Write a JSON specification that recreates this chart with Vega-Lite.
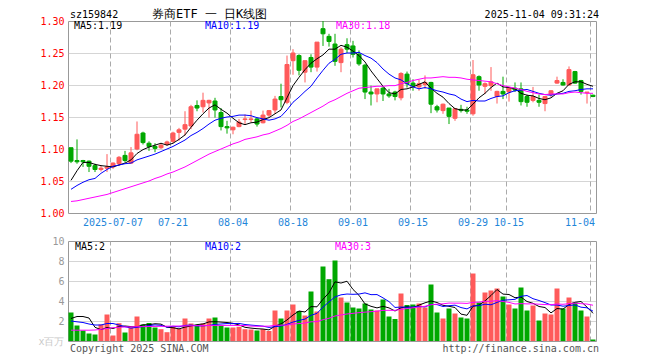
{
"$schema": "https://vega.github.io/schema/vega-lite/v6.json",
"padding": {"left": 37, "top": 7, "right": 0, "bottom": 0},
"background": "white",
"config": {
 "font": "DejaVu Sans Mono",
 "view": {"stroke": "#999", "strokeWidth": 1},
 "axis": {"domain": false, "ticks": false, "tickSize": 0, "labelFont": "DejaVu Sans Mono", "labelFontSize": 10, "title": null, "grid": false, "labelAngle": 0, "labelOverlap": false, "labelBound": false}
},
"datasets": {"k": [
{"d":"2025-06-26","o":1.102,"h":1.102,"l":1.078,"c":1.081,"v":2.85,"MA5":1.051,"MA10":1.037,"MA30":1.018,"VMA5":2.25,"VMA10":2.0,"VMA30":1.08},
{"d":"2025-06-27","o":1.082,"h":1.115,"l":1.077,"c":1.080,"v":1.55,"MA5":1.066,"MA10":1.043,"MA30":1.019,"VMA5":2.45,"VMA10":1.92,"VMA30":1.08},
{"d":"2025-06-30","o":1.082,"h":1.083,"l":1.072,"c":1.080,"v":1.05,"MA5":1.079,"MA10":1.048,"MA30":1.021,"VMA5":2.45,"VMA10":1.85,"VMA30":1.08},
{"d":"2025-07-01","o":1.081,"h":1.082,"l":1.064,"c":1.073,"v":0.75,"MA5":1.079,"MA10":1.052,"MA30":1.023,"VMA5":2.3,"VMA10":1.7,"VMA30":1.08},
{"d":"2025-07-02","o":1.074,"h":1.077,"l":1.064,"c":1.068,"v":0.65,"MA5":1.076,"MA10":1.054,"MA30":1.025,"VMA5":1.37,"VMA10":1.6,"VMA30":1.1},
{"d":"2025-07-03","o":1.068,"h":1.074,"l":1.065,"c":1.070,"v":1.65,"MA5":1.074,"MA10":1.062,"MA30":1.027,"VMA5":1.13,"VMA10":1.6,"VMA30":1.17},
{"d":"2025-07-04","o":1.070,"h":1.092,"l":1.064,"c":1.072,"v":2.65,"MA5":1.073,"MA10":1.068,"MA30":1.029,"VMA5":1.35,"VMA10":1.75,"VMA30":1.25},
{"d":"2025-07-07","o":1.072,"h":1.079,"l":1.069,"c":1.078,"v":0.55,"MA5":1.072,"MA10":1.073,"MA30":1.032,"VMA5":1.25,"VMA10":1.75,"VMA30":1.33},
{"d":"2025-07-08","o":1.077,"h":1.089,"l":1.074,"c":1.087,"v":1.78,"MA5":1.075,"MA10":1.075,"MA30":1.035,"VMA5":1.456,"VMA10":1.6,"VMA30":1.38},
{"d":"2025-07-09","o":1.090,"h":1.097,"l":1.079,"c":1.082,"v":0.85,"MA5":1.078,"MA10":1.077,"MA30":1.038,"VMA5":1.496,"VMA10":1.433,"VMA30":1.4},
{"d":"2025-07-10","o":1.078,"h":1.103,"l":1.077,"c":1.094,"v":1.38,"MA5":1.083,"MA10":1.078,"MA30":1.041,"VMA5":1.442,"VMA10":1.286,"VMA30":1.42},
{"d":"2025-07-11","o":1.100,"h":1.143,"l":1.098,"c":1.123,"v":2.45,"MA5":1.093,"MA10":1.083,"MA30":1.044,"VMA5":1.402,"VMA10":1.376,"VMA30":1.43},
{"d":"2025-07-14","o":1.125,"h":1.127,"l":1.107,"c":1.110,"v":1.65,"MA5":1.099,"MA10":1.086,"MA30":1.047,"VMA5":1.622,"VMA10":1.436,"VMA30":1.44},
{"d":"2025-07-15","o":1.109,"h":1.112,"l":1.097,"c":1.104,"v":1.8,"MA5":1.103,"MA10":1.089,"MA30":1.05,"VMA5":1.626,"VMA10":1.541,"VMA30":1.45},
{"d":"2025-07-16","o":1.104,"h":1.109,"l":1.095,"c":1.101,"v":1.35,"MA5":1.106,"MA10":1.092,"MA30":1.054,"VMA5":1.726,"VMA10":1.611,"VMA30":1.46},
{"d":"2025-07-17","o":1.102,"h":1.109,"l":1.100,"c":1.106,"v":1.18,"MA5":1.109,"MA10":1.096,"MA30":1.057,"VMA5":1.686,"VMA10":1.564,"VMA30":1.47},
{"d":"2025-07-18","o":1.107,"h":1.113,"l":1.105,"c":1.111,"v":0.88,"MA5":1.106,"MA10":1.1,"MA30":1.061,"VMA5":1.372,"VMA10":1.387,"VMA30":1.48},
{"d":"2025-07-21","o":1.112,"h":1.127,"l":1.109,"c":1.125,"v":1.42,"MA5":1.109,"MA10":1.104,"MA30":1.064,"VMA5":1.326,"VMA10":1.474,"VMA30":1.49},
{"d":"2025-07-22","o":1.126,"h":1.133,"l":1.113,"c":1.130,"v":1.22,"MA5":1.115,"MA10":1.109,"MA30":1.068,"VMA5":1.21,"VMA10":1.418,"VMA30":1.5},
{"d":"2025-07-23","o":1.131,"h":1.159,"l":1.121,"c":1.138,"v":2.25,"MA5":1.122,"MA10":1.114,"MA30":1.072,"VMA5":1.39,"VMA10":1.558,"VMA30":1.51},
{"d":"2025-07-24","o":1.136,"h":1.169,"l":1.131,"c":1.166,"v":1.75,"MA5":1.134,"MA10":1.121,"MA30":1.077,"VMA5":1.504,"VMA10":1.595,"VMA30":1.52},
{"d":"2025-07-25","o":1.168,"h":1.176,"l":1.159,"c":1.164,"v":1.55,"MA5":1.145,"MA10":1.126,"MA30":1.082,"VMA5":1.638,"VMA10":1.505,"VMA30":1.53},
{"d":"2025-07-28","o":1.166,"h":1.188,"l":1.157,"c":1.176,"v":1.75,"MA5":1.155,"MA10":1.132,"MA30":1.087,"VMA5":1.704,"VMA10":1.515,"VMA30":1.54},
{"d":"2025-07-29","o":1.172,"h":1.177,"l":1.149,"c":1.176,"v":2.25,"MA5":1.164,"MA10":1.139,"MA30":1.092,"VMA5":1.91,"VMA10":1.56,"VMA30":1.55},
{"d":"2025-07-30","o":1.175,"h":1.180,"l":1.149,"c":1.161,"v":2.35,"MA5":1.169,"MA10":1.145,"MA30":1.096,"VMA5":1.93,"VMA10":1.66,"VMA30":1.56},
{"d":"2025-07-31","o":1.157,"h":1.164,"l":1.129,"c":1.135,"v":1.55,"MA5":1.162,"MA10":1.148,"MA30":1.1,"VMA5":1.89,"VMA10":1.697,"VMA30":1.56},
{"d":"2025-08-01","o":1.135,"h":1.144,"l":1.124,"c":1.133,"v":1.35,"MA5":1.156,"MA10":1.15,"MA30":1.104,"VMA5":1.85,"VMA10":1.744,"VMA30":1.56},
{"d":"2025-08-04","o":1.130,"h":1.135,"l":1.123,"c":1.134,"v":1.35,"MA5":1.148,"MA10":1.151,"MA30":1.108,"VMA5":1.77,"VMA10":1.737,"VMA30":1.56},
{"d":"2025-08-05","o":1.135,"h":1.147,"l":1.134,"c":1.142,"v":1.42,"MA5":1.141,"MA10":1.153,"MA30":1.111,"VMA5":1.604,"VMA10":1.757,"VMA30":1.55},
{"d":"2025-08-06","o":1.146,"h":1.154,"l":1.139,"c":1.147,"v":1.18,"MA5":1.138,"MA10":1.153,"MA30":1.115,"VMA5":1.37,"VMA10":1.65,"VMA30":1.547},
{"d":"2025-08-07","o":1.146,"h":1.160,"l":1.142,"c":1.147,"v":1.15,"MA5":1.141,"MA10":1.152,"MA30":1.117,"VMA5":1.29,"VMA10":1.59,"VMA30":1.49},
{"d":"2025-08-08","o":1.147,"h":1.149,"l":1.135,"c":1.139,"v":1.05,"MA5":1.142,"MA10":1.149,"MA30":1.119,"VMA5":1.23,"VMA10":1.54,"VMA30":1.474},
{"d":"2025-08-11","o":1.141,"h":1.160,"l":1.140,"c":1.153,"v":1.18,"MA5":1.146,"MA10":1.147,"MA30":1.122,"VMA5":1.196,"VMA10":1.483,"VMA30":1.478},
{"d":"2025-08-12","o":1.153,"h":1.161,"l":1.150,"c":1.160,"v":1.0,"MA5":1.149,"MA10":1.145,"MA30":1.124,"VMA5":1.112,"VMA10":1.358,"VMA30":1.486},
{"d":"2025-08-13","o":1.161,"h":1.183,"l":1.155,"c":1.178,"v":3.05,"MA5":1.155,"MA10":1.147,"MA30":1.128,"VMA5":1.486,"VMA10":1.428,"VMA30":1.566},
{"d":"2025-08-14","o":1.182,"h":1.202,"l":1.165,"c":1.177,"v":2.25,"MA5":1.161,"MA10":1.151,"MA30":1.132,"VMA5":1.706,"VMA10":1.498,"VMA30":1.586},
{"d":"2025-08-15","o":1.173,"h":1.246,"l":1.170,"c":1.232,"v":3.05,"MA5":1.18,"MA10":1.161,"MA30":1.137,"VMA5":2.106,"VMA10":1.668,"VMA30":1.6},
{"d":"2025-08-18","o":1.238,"h":1.256,"l":1.216,"c":1.250,"v":3.65,"MA5":1.199,"MA10":1.173,"MA30":1.143,"VMA5":2.6,"VMA10":1.898,"VMA30":1.703},
{"d":"2025-08-19","o":1.246,"h":1.248,"l":1.215,"c":1.223,"v":3.0,"MA5":1.212,"MA10":1.181,"MA30":1.147,"VMA5":3.0,"VMA10":2.056,"VMA30":1.744},
{"d":"2025-08-20","o":1.220,"h":1.238,"l":1.204,"c":1.238,"v":2.55,"MA5":1.224,"MA10":1.19,"MA30":1.152,"VMA5":2.9,"VMA10":2.193,"VMA30":1.8},
{"d":"2025-08-21","o":1.243,"h":1.248,"l":1.220,"c":1.228,"v":4.95,"MA5":1.234,"MA10":1.198,"MA30":1.157,"VMA5":3.44,"VMA10":2.573,"VMA30":1.919},
{"d":"2025-08-22","o":1.228,"h":1.267,"l":1.221,"c":1.267,"v":2.95,"MA5":1.241,"MA10":1.211,"MA30":1.162,"VMA5":3.42,"VMA10":2.763,"VMA30":1.936},
{"d":"2025-08-25","o":1.288,"h":1.300,"l":1.261,"c":1.280,"v":7.45,"MA5":1.247,"MA10":1.223,"MA30":1.167,"VMA5":4.18,"VMA10":3.39,"VMA30":2.129},
{"d":"2025-08-26","o":1.276,"h":1.280,"l":1.260,"c":1.268,"v":6.18,"MA5":1.256,"MA10":1.234,"MA30":1.173,"VMA5":4.816,"VMA10":3.908,"VMA30":2.275},
{"d":"2025-08-27","o":1.264,"h":1.280,"l":1.230,"c":1.237,"v":8.05,"MA5":1.256,"MA10":1.24,"MA30":1.177,"VMA5":5.916,"VMA10":4.408,"VMA30":2.499},
{"d":"2025-08-28","o":1.235,"h":1.259,"l":1.220,"c":1.256,"v":4.35,"MA5":1.262,"MA10":1.248,"MA30":1.182,"VMA5":5.796,"VMA10":4.618,"VMA30":2.604},
{"d":"2025-08-29","o":1.263,"h":1.273,"l":1.250,"c":1.256,"v":3.85,"MA5":1.259,"MA10":1.25,"MA30":1.187,"VMA5":5.976,"VMA10":4.698,"VMA30":2.703},
{"d":"2025-09-01","o":1.261,"h":1.269,"l":1.243,"c":1.248,"v":3.35,"MA5":1.253,"MA10":1.25,"MA30":1.191,"VMA5":5.156,"VMA10":4.668,"VMA30":2.768},
{"d":"2025-09-02","o":1.248,"h":1.254,"l":1.230,"c":1.233,"v":3.25,"MA5":1.246,"MA10":1.251,"MA30":1.195,"VMA5":4.57,"VMA10":4.693,"VMA30":2.835},
{"d":"2025-09-03","o":1.231,"h":1.233,"l":1.178,"c":1.189,"v":3.75,"MA5":1.236,"MA10":1.246,"MA30":1.196,"VMA5":3.71,"VMA10":4.813,"VMA30":2.885},
{"d":"2025-09-04","o":1.189,"h":1.199,"l":1.168,"c":1.186,"v":3.15,"MA5":1.222,"MA10":1.242,"MA30":1.197,"VMA5":3.47,"VMA10":4.633,"VMA30":2.932},
{"d":"2025-09-05","o":1.186,"h":1.194,"l":1.173,"c":1.194,"v":3.05,"MA5":1.21,"MA10":1.235,"MA30":1.198,"VMA5":3.31,"VMA10":4.643,"VMA30":2.982},
{"d":"2025-09-08","o":1.195,"h":1.198,"l":1.175,"c":1.186,"v":4.15,"MA5":1.198,"MA10":1.225,"MA30":1.198,"VMA5":3.47,"VMA10":4.313,"VMA30":3.062},
{"d":"2025-09-09","o":1.186,"h":1.194,"l":1.180,"c":1.183,"v":2.45,"MA5":1.188,"MA10":1.217,"MA30":1.199,"VMA5":3.31,"VMA10":3.94,"VMA30":3.069},
{"d":"2025-09-10","o":1.189,"h":1.191,"l":1.176,"c":1.182,"v":2.2,"MA5":1.186,"MA10":1.211,"MA30":1.199,"VMA5":3.0,"VMA10":3.355,"VMA30":3.064},
{"d":"2025-09-11","o":1.180,"h":1.220,"l":1.176,"c":1.218,"v":4.75,"MA5":1.193,"MA10":1.208,"MA30":1.202,"VMA5":3.32,"VMA10":3.395,"VMA30":3.17},
{"d":"2025-09-12","o":1.217,"h":1.221,"l":1.196,"c":1.202,"v":3.6,"MA5":1.194,"MA10":1.202,"MA30":1.204,"VMA5":3.43,"VMA10":3.37,"VMA30":3.245},
{"d":"2025-09-15","o":1.203,"h":1.209,"l":1.191,"c":1.199,"v":3.65,"MA5":1.197,"MA10":1.197,"MA30":1.207,"VMA5":3.33,"VMA10":3.4,"VMA30":3.322},
{"d":"2025-09-16","o":1.197,"h":1.208,"l":1.191,"c":1.202,"v":3.75,"MA5":1.201,"MA10":1.194,"MA30":1.209,"VMA5":3.59,"VMA10":3.45,"VMA30":3.4},
{"d":"2025-09-17","o":1.201,"h":1.215,"l":1.194,"c":1.204,"v":3.35,"MA5":1.205,"MA10":1.196,"MA30":1.211,"VMA5":3.82,"VMA10":3.41,"VMA30":3.472},
{"d":"2025-09-18","o":1.204,"h":1.205,"l":1.156,"c":1.170,"v":5.65,"MA5":1.195,"MA10":1.194,"MA30":1.211,"VMA5":4.0,"VMA10":3.66,"VMA30":3.622},
{"d":"2025-09-19","o":1.166,"h":1.169,"l":1.157,"c":1.161,"v":2.85,"MA5":1.187,"MA10":1.191,"MA30":1.212,"VMA5":3.85,"VMA10":3.64,"VMA30":3.682},
{"d":"2025-09-22","o":1.160,"h":1.171,"l":1.155,"c":1.170,"v":2.25,"MA5":1.181,"MA10":1.189,"MA30":1.213,"VMA5":3.57,"VMA10":3.45,"VMA30":3.718},
{"d":"2025-09-23","o":1.164,"h":1.164,"l":1.139,"c":1.151,"v":3.25,"MA5":1.171,"MA10":1.186,"MA30":1.212,"VMA5":3.47,"VMA10":3.53,"VMA30":3.793},
{"d":"2025-09-24","o":1.148,"h":1.164,"l":1.144,"c":1.163,"v":2.75,"MA5":1.163,"MA10":1.184,"MA30":1.212,"VMA5":3.35,"VMA10":3.585,"VMA30":3.783},
{"d":"2025-09-25","o":1.162,"h":1.169,"l":1.157,"c":1.160,"v":2.35,"MA5":1.161,"MA10":1.178,"MA30":1.211,"VMA5":2.69,"VMA10":3.345,"VMA30":3.786},
{"d":"2025-09-26","o":1.161,"h":1.166,"l":1.155,"c":1.159,"v":2.25,"MA5":1.161,"MA10":1.174,"MA30":1.209,"VMA5":2.57,"VMA10":3.21,"VMA30":3.759},
{"d":"2025-09-29","o":1.155,"h":1.239,"l":1.152,"c":1.216,"v":6.75,"MA5":1.17,"MA10":1.176,"MA30":1.208,"VMA5":3.47,"VMA10":3.52,"VMA30":3.863},
{"d":"2025-09-30","o":1.213,"h":1.215,"l":1.191,"c":1.200,"v":3.85,"MA5":1.18,"MA10":1.175,"MA30":1.207,"VMA5":3.59,"VMA10":3.53,"VMA30":3.891},
{"d":"2025-10-09","o":1.198,"h":1.204,"l":1.186,"c":1.202,"v":4.85,"MA5":1.187,"MA10":1.175,"MA30":1.206,"VMA5":4.01,"VMA10":3.68,"VMA30":3.968},
{"d":"2025-10-10","o":1.199,"h":1.228,"l":1.191,"c":1.205,"v":5.05,"MA5":1.196,"MA10":1.179,"MA30":1.205,"VMA5":4.55,"VMA10":3.62,"VMA30":3.971},
{"d":"2025-10-13","o":1.182,"h":1.191,"l":1.171,"c":1.190,"v":5.25,"MA5":1.203,"MA10":1.182,"MA30":1.202,"VMA5":5.15,"VMA10":3.86,"VMA30":4.048},
{"d":"2025-10-14","o":1.190,"h":1.213,"l":1.178,"c":1.186,"v":4.45,"MA5":1.197,"MA10":1.183,"MA30":1.199,"VMA5":4.69,"VMA10":4.08,"VMA30":3.948},
{"d":"2025-10-15","o":1.189,"h":1.197,"l":1.174,"c":1.195,"v":3.65,"MA5":1.196,"MA10":1.188,"MA30":1.197,"VMA5":4.65,"VMA10":4.12,"VMA30":3.863},
{"d":"2025-10-16","o":1.195,"h":1.204,"l":1.189,"c":1.192,"v":3.25,"MA5":1.194,"MA10":1.191,"MA30":1.195,"VMA5":4.33,"VMA10":4.17,"VMA30":3.703},
{"d":"2025-10-17","o":1.194,"h":1.204,"l":1.168,"c":1.174,"v":5.35,"MA5":1.187,"MA10":1.192,"MA30":1.193,"VMA5":4.39,"VMA10":4.47,"VMA30":3.737},
{"d":"2025-10-20","o":1.182,"h":1.185,"l":1.166,"c":1.173,"v":3.05,"MA5":1.184,"MA10":1.193,"MA30":1.19,"VMA5":3.95,"VMA10":4.55,"VMA30":3.71},
{"d":"2025-10-21","o":1.176,"h":1.197,"l":1.173,"c":1.182,"v":3.55,"MA5":1.183,"MA10":1.19,"MA30":1.188,"VMA5":3.77,"VMA10":4.23,"VMA30":3.717},
{"d":"2025-10-22","o":1.176,"h":1.185,"l":1.166,"c":1.173,"v":2.05,"MA5":1.179,"MA10":1.187,"MA30":1.186,"VMA5":3.45,"VMA10":4.05,"VMA30":3.677},
{"d":"2025-10-23","o":1.171,"h":1.183,"l":1.159,"c":1.182,"v":2.75,"MA5":1.177,"MA10":1.185,"MA30":1.185,"VMA5":3.35,"VMA10":3.84,"VMA30":3.643},
{"d":"2025-10-24","o":1.185,"h":1.192,"l":1.181,"c":1.191,"v":2.65,"MA5":1.18,"MA10":1.184,"MA30":1.186,"VMA5":2.81,"VMA10":3.6,"VMA30":3.627},
{"d":"2025-10-27","o":1.203,"h":1.213,"l":1.202,"c":1.207,"v":5.25,"MA5":1.187,"MA10":1.186,"MA30":1.186,"VMA5":3.25,"VMA10":3.6,"VMA30":3.7},
{"d":"2025-10-28","o":1.204,"h":1.209,"l":1.199,"c":1.200,"v":3.25,"MA5":1.191,"MA10":1.187,"MA30":1.186,"VMA5":3.19,"VMA10":3.48,"VMA30":3.67},
{"d":"2025-10-29","o":1.200,"h":1.229,"l":1.199,"c":1.224,"v":4.35,"MA5":1.201,"MA10":1.19,"MA30":1.188,"VMA5":3.65,"VMA10":3.55,"VMA30":3.733},
{"d":"2025-10-30","o":1.221,"h":1.222,"l":1.202,"c":1.203,"v":3.85,"MA5":1.205,"MA10":1.191,"MA30":1.189,"VMA5":3.87,"VMA10":3.61,"VMA30":3.788},
{"d":"2025-10-31","o":1.207,"h":1.208,"l":1.185,"c":1.190,"v":3.05,"MA5":1.205,"MA10":1.193,"MA30":1.188,"VMA5":3.95,"VMA10":3.38,"VMA30":3.732},
{"d":"2025-11-03","o":1.188,"h":1.189,"l":1.171,"c":1.189,"v":2.45,"MA5":1.201,"MA10":1.194,"MA30":1.187,"VMA5":3.39,"VMA10":3.32,"VMA30":3.693},
{"d":"2025-11-04","o":1.184,"h":1.185,"l":1.181,"c":1.182,"v":0.15,"MA5":1.198,"MA10":1.194,"MA30":1.187,"VMA5":2.77,"VMA10":2.98,"VMA30":3.577}
]},
"bounds": "flush",
"spacing": 28,
"resolve": {"scale": {"color": "independent"}, "legend": {"color": "independent"}},
"vconcat": [
 {
  "width": 528, "height": 192,
  "title": {"text": "券商ETF 一 日K线图", "anchor": "start", "frame": "group", "dx": 84, "font": "DejaVu Sans Mono", "fontSize": 12, "fontWeight": "normal", "color": "#000", "baseline": "alphabetic", "offset": -20},
  "data": {"name": "k"},
  "layer": [
   {
    "mark": {"type": "rule", "strokeWidth": 1},
    "encoding": {
     "x": {"field": "d", "type": "nominal", "bandPosition": 0.5,
      "scale": {"type": "band", "paddingInner": 0, "paddingOuter": 0},
      "axis": {"orient": "bottom", "values": ["2025-07-07","2025-07-21","2025-08-04","2025-08-18","2025-09-01","2025-09-15","2025-09-29","2025-10-15","2025-11-04"],
       "bandPosition": 0, "labelExpr": "datum.value == '2025-07-07' ? datum.value : slice(datum.value, 5)",
       "labelColor": "#1f86d9", "labelPadding": 4, "labelBaseline": "top", "labelOverlap": false,
       "labelAlign": {"condition": {"test": "datum.value == '2025-11-04'", "value": "right"}, "value": "center"},
       "labelOffset": {"condition": {"test": "datum.value == '2025-11-04'", "value": 2}, "value": 0},
       "grid": true, "gridColor": "#aaa", "gridDash": [5, 3]}},
     "y": {"field": "l", "type": "quantitative",
      "scale": {"domain": [1.0, 1.3], "zero": false, "nice": false},
      "axis": {"values": [1.0, 1.05, 1.1, 1.15, 1.2, 1.25, 1.3], "tickCount": 20, "format": ".2f", "labelColor": "#f00", "labelPadding": 4, "labelOverlap": false,
       "grid": true, "gridColor": "#aaa", "gridDash": [1, 1],
       "gridOpacity": {"condition": {"test": "datum.value < 1.01 || datum.value > 1.29", "value": 0}, "value": 1}}},
     "y2": {"field": "h"},
     "color": {"condition": {"test": "datum.c >= datum.o", "value": "#ff5a5a"}, "value": "#00a800"}
    }
   },
   {
    "mark": {"type": "bar", "width": 4, "strokeWidth": 1},
    "encoding": {
     "x": {"field": "d", "type": "nominal",
      "scale": {"type": "band", "paddingInner": 0, "paddingOuter": 0},
      "axis": {"orient": "top", "values": ["2025-06-26", "2025-11-04"], "bandPosition": 0,
       "labelExpr": "datum.value == '2025-06-26' ? 'sz159842' : '2025-11-04 09:31:24'",
       "labelColor": "#000", "labelBaseline": "alphabetic", "labelPadding": 3.5, "labelOverlap": false,
       "labelAlign": {"condition": {"test": "datum.value == '2025-11-04'", "value": "right"}, "value": "left"},
       "labelOffset": {"condition": {"test": "datum.value == '2025-11-04'", "value": 6}, "value": -1}}},
     "y": {"field": "o", "type": "quantitative"},
     "y2": {"field": "c"},
     "color": {"condition": {"test": "datum.c >= datum.o", "value": "#ff5a5a"}, "value": "#00a800"},
     "stroke": {"condition": {"test": "datum.c >= datum.o", "value": "#ff5a5a"}, "value": "#00a800"}
    }
   },
   {
    "transform": [{"fold": ["MA5", "MA10", "MA30"], "as": ["series", "value"]}],
    "mark": {"type": "line", "strokeWidth": 1},
    "encoding": {
     "x": {"field": "d", "type": "nominal", "bandPosition": 0.5,
      "scale": {"type": "band", "paddingInner": 0, "paddingOuter": 0}, "axis": null},
     "y": {"field": "value", "type": "quantitative"},
     "color": {"field": "series", "type": "nominal",
      "scale": {"domain": ["MA5", "MA10", "MA30"], "range": ["#000000", "#0000ff", "#ff00ff"]},
      "legend": {"orient": "none", "legendX": -4, "legendY": 0, "direction": "horizontal", "columns": 3, "title": null,
       "symbolSize": 0, "symbolOpacity": 0, "symbolStrokeWidth": 0, "labelOffset": 0, "padding": 0,
       "gridAlign": "all", "columnPadding": 66, "labelFont": "DejaVu Sans Mono", "labelFontSize": 10,
       "labelExpr": "datum.value == 'MA5' ? 'MA5:1.19' : datum.value == 'MA10' ? 'MA10:1.19' : 'MA30:1.18'",
       "encode": {"labels": {"update": {"fill": {"signal": "datum.value == 'MA5' ? '#000000' : datum.value == 'MA10' ? '#0000ff' : '#ff00ff'"}}}}}}
    }
   }
  ],
  "resolve": {"axis": {"x": "independent"}}
 },
 {
  "width": 528, "height": 100,
  "data": {"name": "k"},
  "layer": [
   {
    "mark": {"type": "bar", "width": 5},
    "encoding": {
     "x": {"field": "d", "type": "nominal",
      "scale": {"type": "band", "paddingInner": 0, "paddingOuter": 0},
      "axis": {"orient": "bottom", "values": ["2025-06-26", "2025-11-04"], "bandPosition": 0,
       "labelExpr": "datum.value == '2025-06-26' ? 'Copyright 2025 SINA.COM' : 'http://finance.sina.com.cn'",
       "labelColor": "#555", "labelPadding": 2, "labelBaseline": "top", "labelOverlap": false,
       "labelAlign": {"condition": {"test": "datum.value == '2025-11-04'", "value": "right"}, "value": "left"},
       "labelOffset": {"condition": {"test": "datum.value == '2025-11-04'", "value": 6}, "value": -1}}},
     "y": {"field": "v", "type": "quantitative",
      "scale": {"domain": [0, 10], "nice": false},
      "axis": {"values": [0, 2, 4, 6, 8, 10], "tickCount": 20, "format": "d", "labelExpr": "datum.value == 0 ? 'x百万' : datum.label", "labelPadding": 4, "labelOverlap": false,
       "labelColor": {"condition": {"test": "datum.value == 0", "value": "#c8c8c8"}, "value": "#999"},
       "grid": true, "gridColor": "#aaa", "gridDash": [1, 1],
       "gridOpacity": {"condition": {"test": "datum.value < 0.1 || datum.value > 9.9", "value": 0}, "value": 1}}},
     "color": {"condition": {"test": "datum.c >= datum.o", "value": "#ff5a5a"}, "value": "#00a800"}
    }
   },
   {
    "transform": [{"fold": ["VMA5", "VMA10", "VMA30"], "as": ["series", "value"]}],
    "mark": {"type": "line", "strokeWidth": 1},
    "encoding": {
     "x": {"field": "d", "type": "nominal", "bandPosition": 0.5,
      "scale": {"type": "band", "paddingInner": 0, "paddingOuter": 0},
      "axis": {"orient": "top", "values": ["2025-07-07","2025-07-21","2025-08-04","2025-08-18","2025-09-01","2025-09-15","2025-09-29","2025-10-15","2025-11-04"],
       "bandPosition": 0, "labels": false, "grid": true, "gridColor": "#aaa", "gridDash": [5, 3]}},
     "y": {"field": "value", "type": "quantitative"},
     "color": {"field": "series", "type": "nominal",
      "scale": {"domain": ["VMA5", "VMA10", "VMA30"], "range": ["#000000", "#0000ff", "#ff00ff"]},
      "legend": {"orient": "none", "legendX": -3, "legendY": 1, "direction": "horizontal", "columns": 3, "title": null,
       "symbolSize": 0, "symbolOpacity": 0, "symbolStrokeWidth": 0, "labelOffset": 0, "padding": 0,
       "gridAlign": "all", "columnPadding": 83, "labelFont": "DejaVu Sans Mono", "labelFontSize": 10,
       "labelExpr": "datum.value == 'VMA5' ? 'MA5:2' : datum.value == 'VMA10' ? 'MA10:2' : 'MA30:3'",
       "encode": {"labels": {"update": {"fill": {"signal": "datum.value == 'VMA5' ? '#000000' : datum.value == 'VMA10' ? '#0000ff' : '#ff00ff'"}}}}}}
    }
   }
  ],
  "resolve": {"axis": {"x": "independent"}}
 }
]
}
